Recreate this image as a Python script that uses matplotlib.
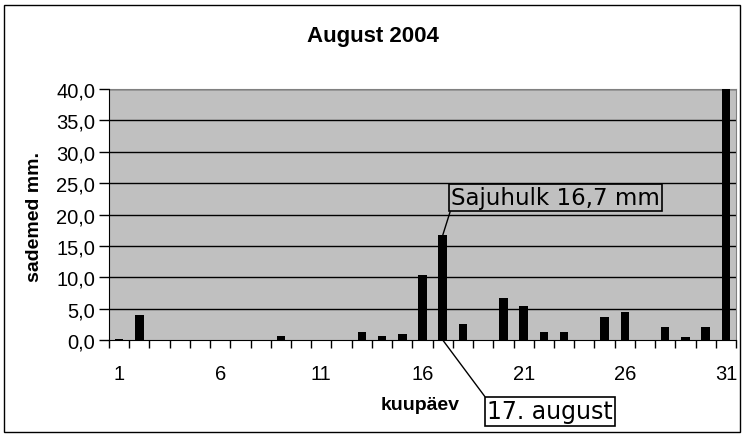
import matplotlib.pyplot as plt
import numpy as np
from matplotlib.patches import Rectangle

# daily precipitation, August 2004
days = np.arange(1, 32)
rain = [0.2, 4.0, 0, 0, 0, 0, 0, 0, 0.7, 0,
        0, 0, 1.3, 0.7, 1.0, 10.3, 16.7, 2.6, 0, 6.7,
        5.4, 1.2, 1.2, 0, 3.7, 4.5, 0, 2.0, 0.5, 2.0,
        40.0]
yticks = np.arange(0, 45, 5)
xlabels = [1, 6, 11, 16, 21, 26, 31]

plt.rcParams['font.family'] = ['Liberation Sans', 'DejaVu Sans']

fig = plt.figure(figsize=(7.48, 4.39), dpi=100)
ax = fig.add_axes([0.1457, 0.2232, 0.984 - 0.1457, 0.795 - 0.2232])
ax.set_facecolor('#c0c0c0')

ax.bar(days, rain, width=0.42, color='black', zorder=3)

ax.set_xlim(0.5, 31.5)
ax.set_ylim(0, 40)
ax.set_yticks(yticks)
ax.set_yticklabels([f"{v:.1f}".replace('.', ',') for v in yticks], fontsize=14.5)
for v in yticks[1:]:
    ax.axhline(v, color='black', lw=1, zorder=1)

ax.set_xticks(np.arange(0.5, 32, 1))
ax.set_xticklabels([])
ax.set_xticks(xlabels, minor=True)
ax.set_xticklabels([str(d) for d in xlabels], minor=True, fontsize=14.5)
ax.tick_params(axis='x', which='minor', length=0, pad=17)
ax.tick_params(axis='x', which='major', length=6, width=1, color='black')
ax.tick_params(axis='y', length=7, width=1, pad=3)

for s in ['top', 'right']:
    ax.spines[s].set_color('#808080')
for s in ['left', 'bottom']:
    ax.spines[s].set_color('black')
    ax.spines[s].set_zorder(4)

fig.text(0.499, 0.916, 'August 2004', ha='center', va='center',
         fontsize=16, fontweight='bold')
fig.text(0.046, 0.506, 'sademed mm.', ha='center', va='center',
         rotation=90, fontsize=14, fontweight='bold')
fig.text(0.562, 0.077, 'kuupäev', ha='center', va='center',
         fontsize=14, fontweight='bold')

ax.annotate('Sajuhulk 16,7 mm', xy=(17, 16.7), xycoords='data',
            xytext=(0.603, 0.522), textcoords='figure fraction',
            ha='left', va='bottom', fontsize=16.5, family='DejaVu Sans',
            bbox=dict(boxstyle='square,pad=0.1', fc='none', ec='black', lw=1.2),
            arrowprops=dict(arrowstyle='-', color='black', lw=1,
                            relpos=(0, 0), shrinkA=0, shrinkB=0),
            zorder=5, annotation_clip=False)

ax.annotate('17. august', xy=(17, 0), xycoords='data',
            xytext=(0.651, 0.088), textcoords='figure fraction',
            ha='left', va='top', fontsize=17, family='DejaVu Sans',
            bbox=dict(boxstyle='square,pad=0.1', fc='white', ec='black', lw=1.2),
            arrowprops=dict(arrowstyle='-', color='black', lw=1,
                            relpos=(0, 1), shrinkA=0, shrinkB=0),
            zorder=5, annotation_clip=False)

fig.patches.append(Rectangle((4 / 748, 6 / 439), 736 / 748, 427 / 439,
                             transform=fig.transFigure, fill=False,
                             ec='black', lw=1))

fig.savefig('out.png', dpi=100)
